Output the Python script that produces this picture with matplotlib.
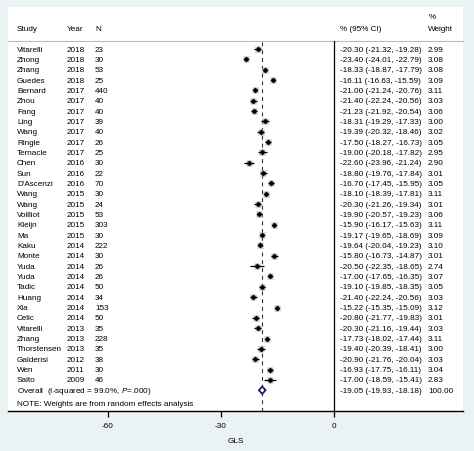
import matplotlib
matplotlib.use("Agg")
import matplotlib.pyplot as plt
from matplotlib.patches import Polygon
from matplotlib.transforms import blended_transform_factory
import numpy as np

plt.rcParams["font.family"] = ["Liberation Sans", "DejaVu Sans"]
plt.rcParams["mathtext.fontset"] = "custom"
plt.rcParams["mathtext.it"] = "Liberation Sans:italic"
plt.rcParams["mathtext.rm"] = "Liberation Sans"

# --- data
studies = ["Vitarelli", "Zhong", "Zhang", "Guedes", "Bernard", "Zhou", "Fang", "Ling",
           "Wang", "Ringle", "Ternacle", "Chen", "Sun", "D'Ascenzi", "Wang", "Wang",
           "Voilliot", "Kleijn", "Ma", "Kaku", "Monte", "Yuda", "Yuda", "Tadic", "Huang",
           "Xia", "Celic", "Vitarelli", "Zhang", "Thorstensen", "Galderisi", "Wen", "Saito"]
years = [2018, 2018, 2018, 2018, 2017, 2017, 2017, 2017, 2017, 2017, 2017, 2016, 2016,
         2016, 2015, 2015, 2015, 2015, 2015, 2014, 2014, 2014, 2014, 2014, 2014, 2014,
         2014, 2013, 2013, 2013, 2012, 2011, 2009]
n_subj = [23, 30, 53, 25, 440, 40, 40, 39, 40, 26, 25, 30, 22, 70, 30, 24, 53, 303, 30,
          222, 30, 26, 26, 50, 34, 153, 50, 35, 228, 35, 38, 30, 46]
est = [-20.30, -23.40, -18.33, -16.11, -21.00, -21.40, -21.23, -18.31, -19.39, -17.50,
       -19.00, -22.60, -18.80, -16.70, -18.10, -20.30, -19.90, -15.90, -19.17, -19.64,
       -15.80, -20.50, -17.00, -19.10, -21.40, -15.22, -20.80, -20.30, -17.73, -19.40,
       -20.90, -16.93, -17.00]
ci_lo = [-21.32, -24.01, -18.87, -16.63, -21.24, -22.24, -21.92, -19.29, -20.32, -18.27,
         -20.18, -23.96, -19.76, -17.45, -18.39, -21.26, -20.57, -16.17, -19.65, -20.04,
         -16.73, -22.35, -17.65, -19.85, -22.24, -15.35, -21.77, -21.16, -18.02, -20.39,
         -21.76, -17.75, -18.59]
ci_hi = [-19.28, -22.79, -17.79, -15.59, -20.76, -20.56, -20.54, -17.33, -18.46, -16.73,
         -17.82, -21.24, -17.84, -15.95, -17.81, -19.34, -19.23, -15.63, -18.69, -19.23,
         -14.87, -18.65, -16.35, -18.35, -20.56, -15.09, -19.83, -19.44, -17.44, -18.41,
         -20.04, -16.11, -15.41]
weights = [2.99, 3.08, 3.08, 3.09, 3.11, 3.03, 3.06, 3.00, 3.02, 3.05, 2.95, 2.90, 3.01,
           3.05, 3.11, 3.01, 3.06, 3.11, 3.09, 3.10, 3.01, 2.74, 3.07, 3.05, 3.03, 3.12,
           3.01, 3.03, 3.11, 3.00, 3.03, 3.04, 2.83]
overall_est, overall_lo, overall_hi, overall_w = -19.05, -19.93, -18.18, 100.00
i_squared = 99.0
x_ticks = [-60, -30, 0]

# --- figure layout (pixel based, 474x452)
W, H = 474, 452
left_px, right_px, top_px, bot_px = 8, 463, 8, 412
bg = "#eaf2f4"
fs = 5.9

fig = plt.figure(figsize=(W / 100, H / 100), dpi=100, facecolor=bg)
ax = fig.add_axes([left_px / W, (H - bot_px) / H,
                   (right_px - left_px) / W, (bot_px - top_px) / H])
ax.set_facecolor("white")

# x scale: -60 at px 108, 0 at px 334
ppu = (334 - 108) / 60.0
ax.set_xlim(-60 - (108 - left_px) / ppu, (right_px - 334) / ppu)
row0_px, row_h = 50, 10.34
ax.set_ylim((bot_px - row0_px) / row_h, (top_px - row0_px) / row_h)

def fx(px):
    return (px - left_px) / (right_px - left_px)

tr = blended_transform_factory(ax.transAxes, ax.transData)
rows = np.arange(len(studies))
overall_row = len(studies)
note_row = overall_row + 1.25
head_line = -0.77
head_row = -1.95
ybot = ax.get_ylim()[0]

# header
ax.plot([0, 1], [head_line, head_line], transform=tr, color="#b8bcbf", lw=0.8, clip_on=False)
for px, t in [(17, "Study"), (67, "Year"), (95, "N"), (340, "% (95% CI)"), (428, "Weight")]:
    ax.text(fx(px), head_row, t, transform=tr, fontsize=fs, va="center", ha="left")
ax.text(fx(429), head_row - 1.15, "%", transform=tr, fontsize=fs, va="center", ha="left")

# null line and overall line
ax.plot([0, 0], [head_line, ybot], color="black", lw=0.9)
ax.plot([overall_est, overall_est], [head_line + 0.05, ybot], color="#333333", lw=0.8,
        ls=(0, (3.5, 3.5)))

# study rows
for r, s, y, n, e, lo, hi, w in zip(rows, studies, years, n_subj, est, ci_lo, ci_hi, weights):
    ax.text(fx(17), r, s, transform=tr, fontsize=fs, va="center")
    ax.text(fx(67), r, str(y), transform=tr, fontsize=fs, va="center")
    ax.text(fx(95), r, str(n), transform=tr, fontsize=fs, va="center")
    ax.text(fx(340), r, f"{e:.2f} ({lo:.2f}, {hi:.2f})", transform=tr, fontsize=fs, va="center")
    ax.text(fx(428), r, f"{w:.2f}", transform=tr, fontsize=fs, va="center")
    ax.plot([lo, hi], [r, r], color="black", lw=0.9, solid_capstyle="butt", zorder=3)
    ax.plot(e, r, marker="s", ms=4.8 * np.sqrt(w / 3.0), color="#bdbdbd", mec="none", zorder=2)
    ax.plot(e, r, marker="D", ms=3.0, color="black", mec="none", zorder=4)

# overall
ax.text(fx(17), overall_row,
        f"Overall  (I-squared = {i_squared:.1f}%, $\\it{{P}}$=.000)",
        transform=tr, fontsize=fs, va="center")
ax.text(fx(340), overall_row, f"{overall_est:.2f} ({overall_lo:.2f}, {overall_hi:.2f})",
        transform=tr, fontsize=fs, va="center")
ax.text(fx(428), overall_row, f"{overall_w:.2f}", transform=tr, fontsize=fs, va="center")
dh = 0.36
ax.add_patch(Polygon([(overall_lo, overall_row), (overall_est, overall_row - dh),
                      (overall_hi, overall_row), (overall_est, overall_row + dh)],
                     closed=True, facecolor="white", edgecolor="#1c1c6b", lw=1.3, zorder=5))

ax.text(fx(17), note_row, "NOTE: Weights are from random effects analysis",
        transform=tr, fontsize=fs, va="center")

# axes styling
for side in ["top", "left", "right"]:
    ax.spines[side].set_visible(False)
ax.spines["bottom"].set_linewidth(1.0)
ax.set_yticks([])
ax.set_xticks(x_ticks)
ax.set_xticklabels([str(t) for t in x_ticks])
ax.tick_params(axis="x", direction="out", length=4, width=0.9, labelsize=fs, pad=4)
ax.set_xlabel("GLS", fontsize=fs, labelpad=6)

fig.savefig("out.png", dpi=100, facecolor=bg)
